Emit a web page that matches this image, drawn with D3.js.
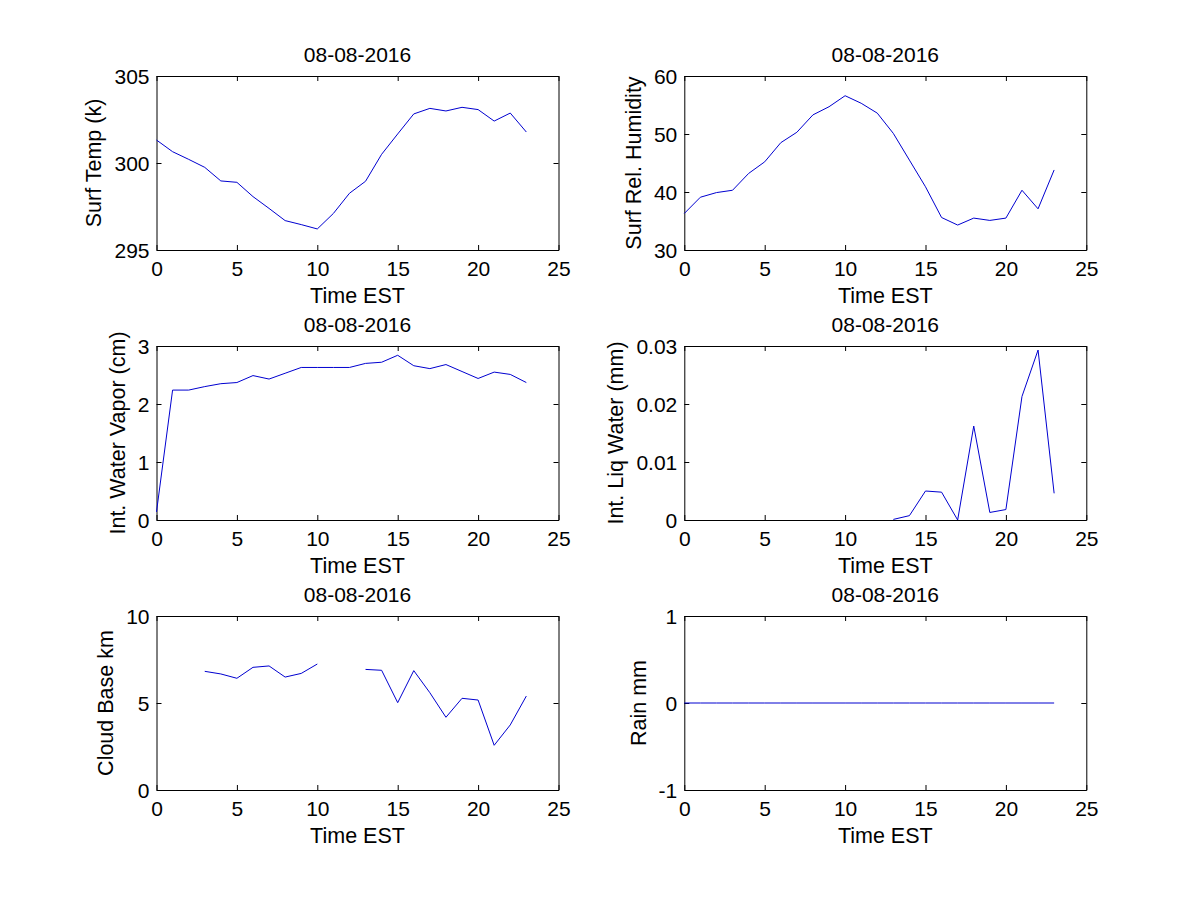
<!DOCTYPE html>
<html>
<head>
<meta charset="utf-8">
<script src="https://cdn.jsdelivr.net/npm/d3@7"></script>
<style>
  body { margin: 0; background: #fff; }
  svg { display: block; }
  text { font-family: "Liberation Sans", Arial, sans-serif; }
</style>
</head>
<body>
<svg id="chart" width="1200" height="900"></svg>
<script>
// ---- Data ----
const hours = [0,1,2,3,4,5,6,7,8,9,10,11,12,13,14,15,16,17,18,19,20,21,22,23];
const xTicks = [0,5,10,15,20,25];

const surfTemp = [301.32,300.65,300.21,299.75,298.97,298.89,298.07,297.39,296.69,296.46,296.21,297.10,
                  298.26,298.95,300.50,301.67,302.82,303.14,302.99,303.20,303.07,302.41,302.87,301.78];
const surfRelHum = [36.3,39.1,39.9,40.3,43.2,45.2,48.5,50.3,53.3,54.7,56.6,55.3,
                    53.6,50.1,45.5,40.9,35.6,34.3,35.5,35.1,35.5,40.3,37.1,43.8];
const intWaterVapor = [0.14,2.24,2.24,2.30,2.35,2.37,2.49,2.43,2.53,2.63,2.63,2.63,
                       2.63,2.70,2.72,2.84,2.66,2.61,2.68,2.56,2.44,2.55,2.51,2.37];
const intLiqWater = [null,null,null,null,null,null,null,null,null,null,null,null,
                     null,0.0001,0.00075,0.0050,0.0048,0.0,0.0162,0.0013,0.0018,0.0213,0.0293,0.0046];
const cloudBase = [null,null,null,6.82,6.67,6.42,7.05,7.13,6.49,6.70,7.24,null,
                   null,6.93,6.88,5.02,6.86,5.59,4.18,5.27,5.17,2.57,3.74,5.40];
const rain = [0,0,0,0,0,0,0,0,0,0,0,0,0,0,0,0,0,0,0,0,0,0,0,0];

const titles = ["08-08-2016","08-08-2016","08-08-2016","08-08-2016","08-08-2016","08-08-2016"];
const yLabels = ["Surf Temp (k)","Surf Rel. Humidity","Int. Water Vapor (cm)","Int. Liq Water (mm)","Cloud Base km","Rain mm"];
const xLabel = "Time EST";
const yDomains = [[295,305],[30,60],[0,3],[0,0.03],[0,10],[-1,1]];
const yTicks = [[295,300,305],[30,40,50,60],[0,1,2,3],[0,0.01,0.02,0.03],[0,5,10],[-1,0,1]];
const series = [surfTemp, surfRelHum, intWaterVapor, intLiqWater, cloudBase, rain];

// ---- Layout ----
const colLeft = [156.5, 684.3];
const rowTop = [76, 346, 616];
const plotW = 402, plotH = 174;
const FS = 21;
const LFS = 21.5;
const tickLen = 5;

const svg = d3.select("#chart");
svg.append("rect").attr("width",1200).attr("height",900).attr("fill","#fff");

series.forEach((vals, i) => {
  const col = i % 2, row = Math.floor(i / 2);
  const g = svg.append("g").attr("transform", `translate(${colLeft[col]},${rowTop[row]})`);
  const x = d3.scaleLinear().domain([0,25]).range([0, plotW]);
  const y = d3.scaleLinear().domain(yDomains[i]).range([plotH, 0]);

  const fmt = d => String(+d.toFixed(4));

  const styleAxis = sel => {
    sel.attr("font-size", null).attr("font-family", null);
    sel.selectAll("text").attr("font-size", FS).attr("fill", "#000");
    sel.selectAll("line").attr("stroke", "#000");
    sel.select(".domain").attr("stroke", "#000");
  };

  const gx = g.append("g").attr("transform", `translate(0,${plotH})`)
    .call(d3.axisBottom(x).tickValues(xTicks).tickFormat(fmt).tickSizeInner(-tickLen).tickSizeOuter(0).tickPadding(11));
  styleAxis(gx);
  const gxt = g.append("g")
    .call(d3.axisTop(x).tickValues(xTicks).tickFormat("").tickSizeInner(-tickLen).tickSizeOuter(0));
  styleAxis(gxt);
  const gy = g.append("g")
    .call(d3.axisLeft(y).tickValues(yTicks[i]).tickFormat(fmt).tickSizeInner(-tickLen).tickSizeOuter(0).tickPadding(7));
  styleAxis(gy);
  gy.selectAll("text").attr("dy", "0.35em");
  const gyr = g.append("g").attr("transform", `translate(${plotW},0)`)
    .call(d3.axisRight(y).tickValues(yTicks[i]).tickFormat("").tickSizeInner(-tickLen).tickSizeOuter(0));
  styleAxis(gyr);

  // data line
  const line = d3.line()
    .defined(d => d[1] !== null && d[1] !== undefined)
    .x(d => x(d[0])).y(d => y(d[1]));
  g.append("path")
    .datum(hours.map((h, k) => [h, vals[k]]))
    .attr("fill", "none").attr("stroke", "#0000d0").attr("stroke-width", 1)
    .attr("d", line);

  // title
  g.append("text").attr("x", plotW/2).attr("y", -14)
    .attr("text-anchor", "middle").attr("font-size", FS).attr("fill", "#000")
    .text(titles[i]);

  // x label
  g.append("text").attr("x", plotW/2).attr("y", plotH + 53)
    .attr("text-anchor", "middle").attr("font-size", LFS).attr("fill", "#000")
    .text(xLabel);

  // y label, placed left of the widest tick label
  let maxW = 0;
  gy.selectAll("text").each(function() { maxW = Math.max(maxW, this.getBBox().width); });
  const lx = -7 - maxW - 13;
  g.append("text")
    .attr("transform", `translate(${lx},${plotH/2}) rotate(-90)`)
    .attr("text-anchor", "middle").attr("font-size", LFS).attr("fill", "#000")
    .text(yLabels[i]);
});
</script>
</body>
</html>
